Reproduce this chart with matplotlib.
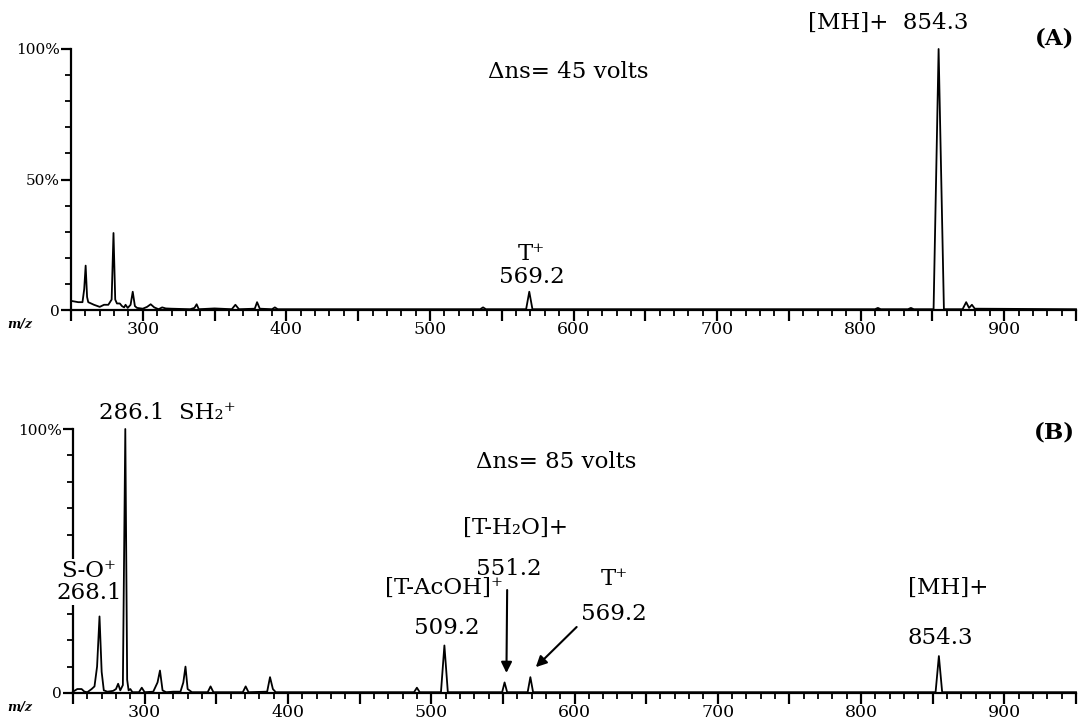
import matplotlib
matplotlib.use("Agg")
import matplotlib.pyplot as plt
from matplotlib.ticker import MultipleLocator, FuncFormatter

plt.rcParams['font.family'] = ['DejaVu Serif', 'DejaVu Sans']

# ---------------- data ----------------
# Spectrum (A): Δns = 45 V  — trace points (m/z, relative intensity %)
mz_A = [250, 255, 258, 259.2, 260.2, 261.2, 262, 266, 270, 273, 276, 278.3, 279.6, 280.8,
        282, 284, 285.5, 287, 288, 289.5, 291.5, 293, 294.5, 296, 300, 303, 305.5, 308,
        311, 313.5, 316, 320, 333, 336, 337.5, 339, 350, 362, 364.5, 367, 378, 379.6,
        381.5, 390, 392, 394, 535, 537, 539, 567, 569.2, 571.4, 810, 812, 814, 833, 835,
        837, 850.8, 854.3, 858, 871, 873.5, 875.5, 877.5, 879.5, 950]
int_A = [3.5, 3.0, 3.0, 8, 17, 5, 3.0, 2.0, 1.2, 2.0, 2.0, 4, 29.5, 4,
         2.5, 2.5, 1.5, 1.0, 2.0, 0.8, 2.0, 7.0, 1.5, 0.8, 0.5, 1.2, 2.2, 1.0,
         0.3, 1.0, 0.6, 0.5, 0.3, 0.8, 2.2, 0.3, 0.6, 0.3, 2.0, 0.3, 0.5, 3.0,
         0.5, 0.3, 1.0, 0.3, 0.3, 1.0, 0.3, 0.3, 7.0, 0.3, 0.3, 0.8, 0.3, 0.3, 0.8,
         0.3, 0.3, 100, 0.3, 0.3, 3.0, 0.8, 2.0, 0.5, 0.3]

# Spectrum (B): Δns = 85 V
mz_B = [250, 253, 256, 258, 260, 263, 265, 266.8, 268.5, 270, 271.5, 274, 278, 280, 281.5,
        283, 284.8, 286.5, 287.8, 288.8, 290, 291.5, 296, 298, 300, 306, 309, 310.7, 312.5,
        315, 320, 325, 327, 328.5, 330, 333, 344, 346, 348, 368.5, 370.5, 372.5, 385.5,
        387.5, 389.5, 391.5, 488, 490, 492, 506.8, 509.2, 511.6, 549.5, 551.2, 553, 567.3,
        569.2, 571.1, 852, 854.3, 856.6, 950]
int_B = [0.5, 1.5, 1.5, 0.5, 0.3, 1.5, 2.5, 10, 29, 8, 1.0, 0.5, 0.8, 1.5, 3.5,
         1.0, 3.0, 100, 5, 1.0, 1.5, 0.3, 0.3, 2.0, 0.3, 0.5, 4, 8.5, 1.0,
         0.3, 0.5, 0.5, 4, 10, 1.5, 0.3, 0.3, 2.5, 0.3, 0.3, 2.5, 0.3, 0.5,
         6.0, 1.5, 0.3, 0.3, 2.0, 0.3, 0.3, 18, 0.3, 0.3, 4, 0.3, 0.3,
         6, 0.3, 0.3, 14, 0.3, 0.3]

x_major_labels = [300, 400, 500, 600, 700, 800, 900]
y_tick_values = [0, 50, 100]
y_tick_labels_A = ['0', '50%', '100%']
y_tick_labels_B = ['0', '', '100%']   # 50% hidden behind the S-O+ label in (B)

# ---------------- figure ----------------
W, H = 1080, 720
fig = plt.figure(figsize=(10.8, 7.2), dpi=100)
axA = fig.add_axes([71 / W, 1 - 310 / H, (1076 - 71) / W, (310 - 49) / H])
axB = fig.add_axes([73 / W, 1 - 693 / H, (1076 - 73) / W, (693 - 429) / H])


def style_axis(ax, ylabels):
    ax.set_xlim(250, 950)
    ax.set_ylim(0, 100)
    for s in ('top', 'right'):
        ax.spines[s].set_visible(False)
    for s in ('left', 'bottom'):
        ax.spines[s].set_linewidth(1.6)
    ax.xaxis.set_major_locator(MultipleLocator(50))
    ax.xaxis.set_minor_locator(MultipleLocator(10))
    ax.xaxis.set_major_formatter(FuncFormatter(
        lambda v, p: f"{int(round(v))}" if int(round(v)) in x_major_labels else ""))
    ax.set_yticks(y_tick_values)
    ax.set_yticklabels(ylabels)
    ax.yaxis.set_minor_locator(MultipleLocator(10))
    ax.tick_params(axis='x', which='major', direction='out', length=8, width=1.6,
                   labelsize=12.5, pad=0)
    ax.tick_params(axis='x', which='minor', direction='out', length=4, width=1.3)
    ax.tick_params(axis='y', which='major', direction='out', length=7, width=1.6,
                   labelsize=11, pad=1)
    ax.tick_params(axis='y', which='minor', direction='out', length=4, width=1.3)
    ax.set_facecolor('white')


style_axis(axA, y_tick_labels_A)
style_axis(axB, y_tick_labels_B)

axA.plot(mz_A, int_A, color='black', lw=1.3, clip_on=False, zorder=3)
axB.plot(mz_B, int_B, color='black', lw=1.3, clip_on=False, zorder=3)

fs = 16.5
# ----- panel A annotations -----
axA.text(819, 110, "[MH]+  854.3", ha='center', va='center', fontsize=fs, clip_on=False)
axA.text(935, 104, "(A)", ha='center', va='center', fontsize=fs, fontweight='bold',
         clip_on=False)
axA.text(596, 91, "Δns= 45 volts", ha='center', va='center', fontsize=fs)
axA.text(571, 21.5, "T⁺", ha='center', va='center', fontsize=fs)
axA.text(571, 12.5, "569.2", ha='center', va='center', fontsize=fs)

# ----- panel B annotations -----
axB.text(316, 106, "286.1  SH₂⁺", ha='center', va='center', fontsize=fs, clip_on=False)
axB.text(935, 98.5, "(B)", ha='center', va='center', fontsize=fs, fontweight='bold',
         clip_on=False)
axB.text(587.5, 87.5, "Δns= 85 volts", ha='center', va='center', fontsize=fs)
axB.text(559, 62.5, "[T-H₂O]+", ha='center', va='center', fontsize=fs)
axB.text(554, 47, "551.2", ha='center', va='center', fontsize=fs)
axB.text(509, 40, "[T-AcOH]⁺", ha='center', va='center', fontsize=fs)
axB.text(511, 24.6, "509.2", ha='center', va='center', fontsize=fs)
axB.text(628, 43, "T⁺", ha='center', va='center', fontsize=fs)
axB.text(627.5, 30, "569.2", ha='center', va='center', fontsize=fs)
axB.text(261, 42, "S-O⁺\n268.1", ha='center', va='center', fontsize=fs,
         linespacing=1.0, clip_on=False, zorder=5,
         bbox=dict(facecolor='white', edgecolor='none', pad=0.5))
axB.text(861, 40, "[MH]+", ha='center', va='center', fontsize=fs)
axB.text(855, 21, "854.3", ha='center', va='center', fontsize=fs)

arrow = dict(arrowstyle='-|>', lw=1.5, color='black', mutation_scale=16,
             shrinkA=0, shrinkB=0)
axB.annotate("", xy=(552.5, 7.6), xytext=(553, 39), arrowprops=arrow)
axB.annotate("", xy=(573, 9.8), xytext=(601.5, 25), arrowprops=arrow)

# m/z axis captions
fig.text(20 / W, 1 - 325 / H, "m/z", ha='center', va='center', fontsize=9,
         fontstyle='italic', fontweight='bold')
fig.text(20 / W, 1 - 708 / H, "m/z", ha='center', va='center', fontsize=9,
         fontstyle='italic', fontweight='bold')

fig.savefig("out.png", dpi=100, facecolor='white')
